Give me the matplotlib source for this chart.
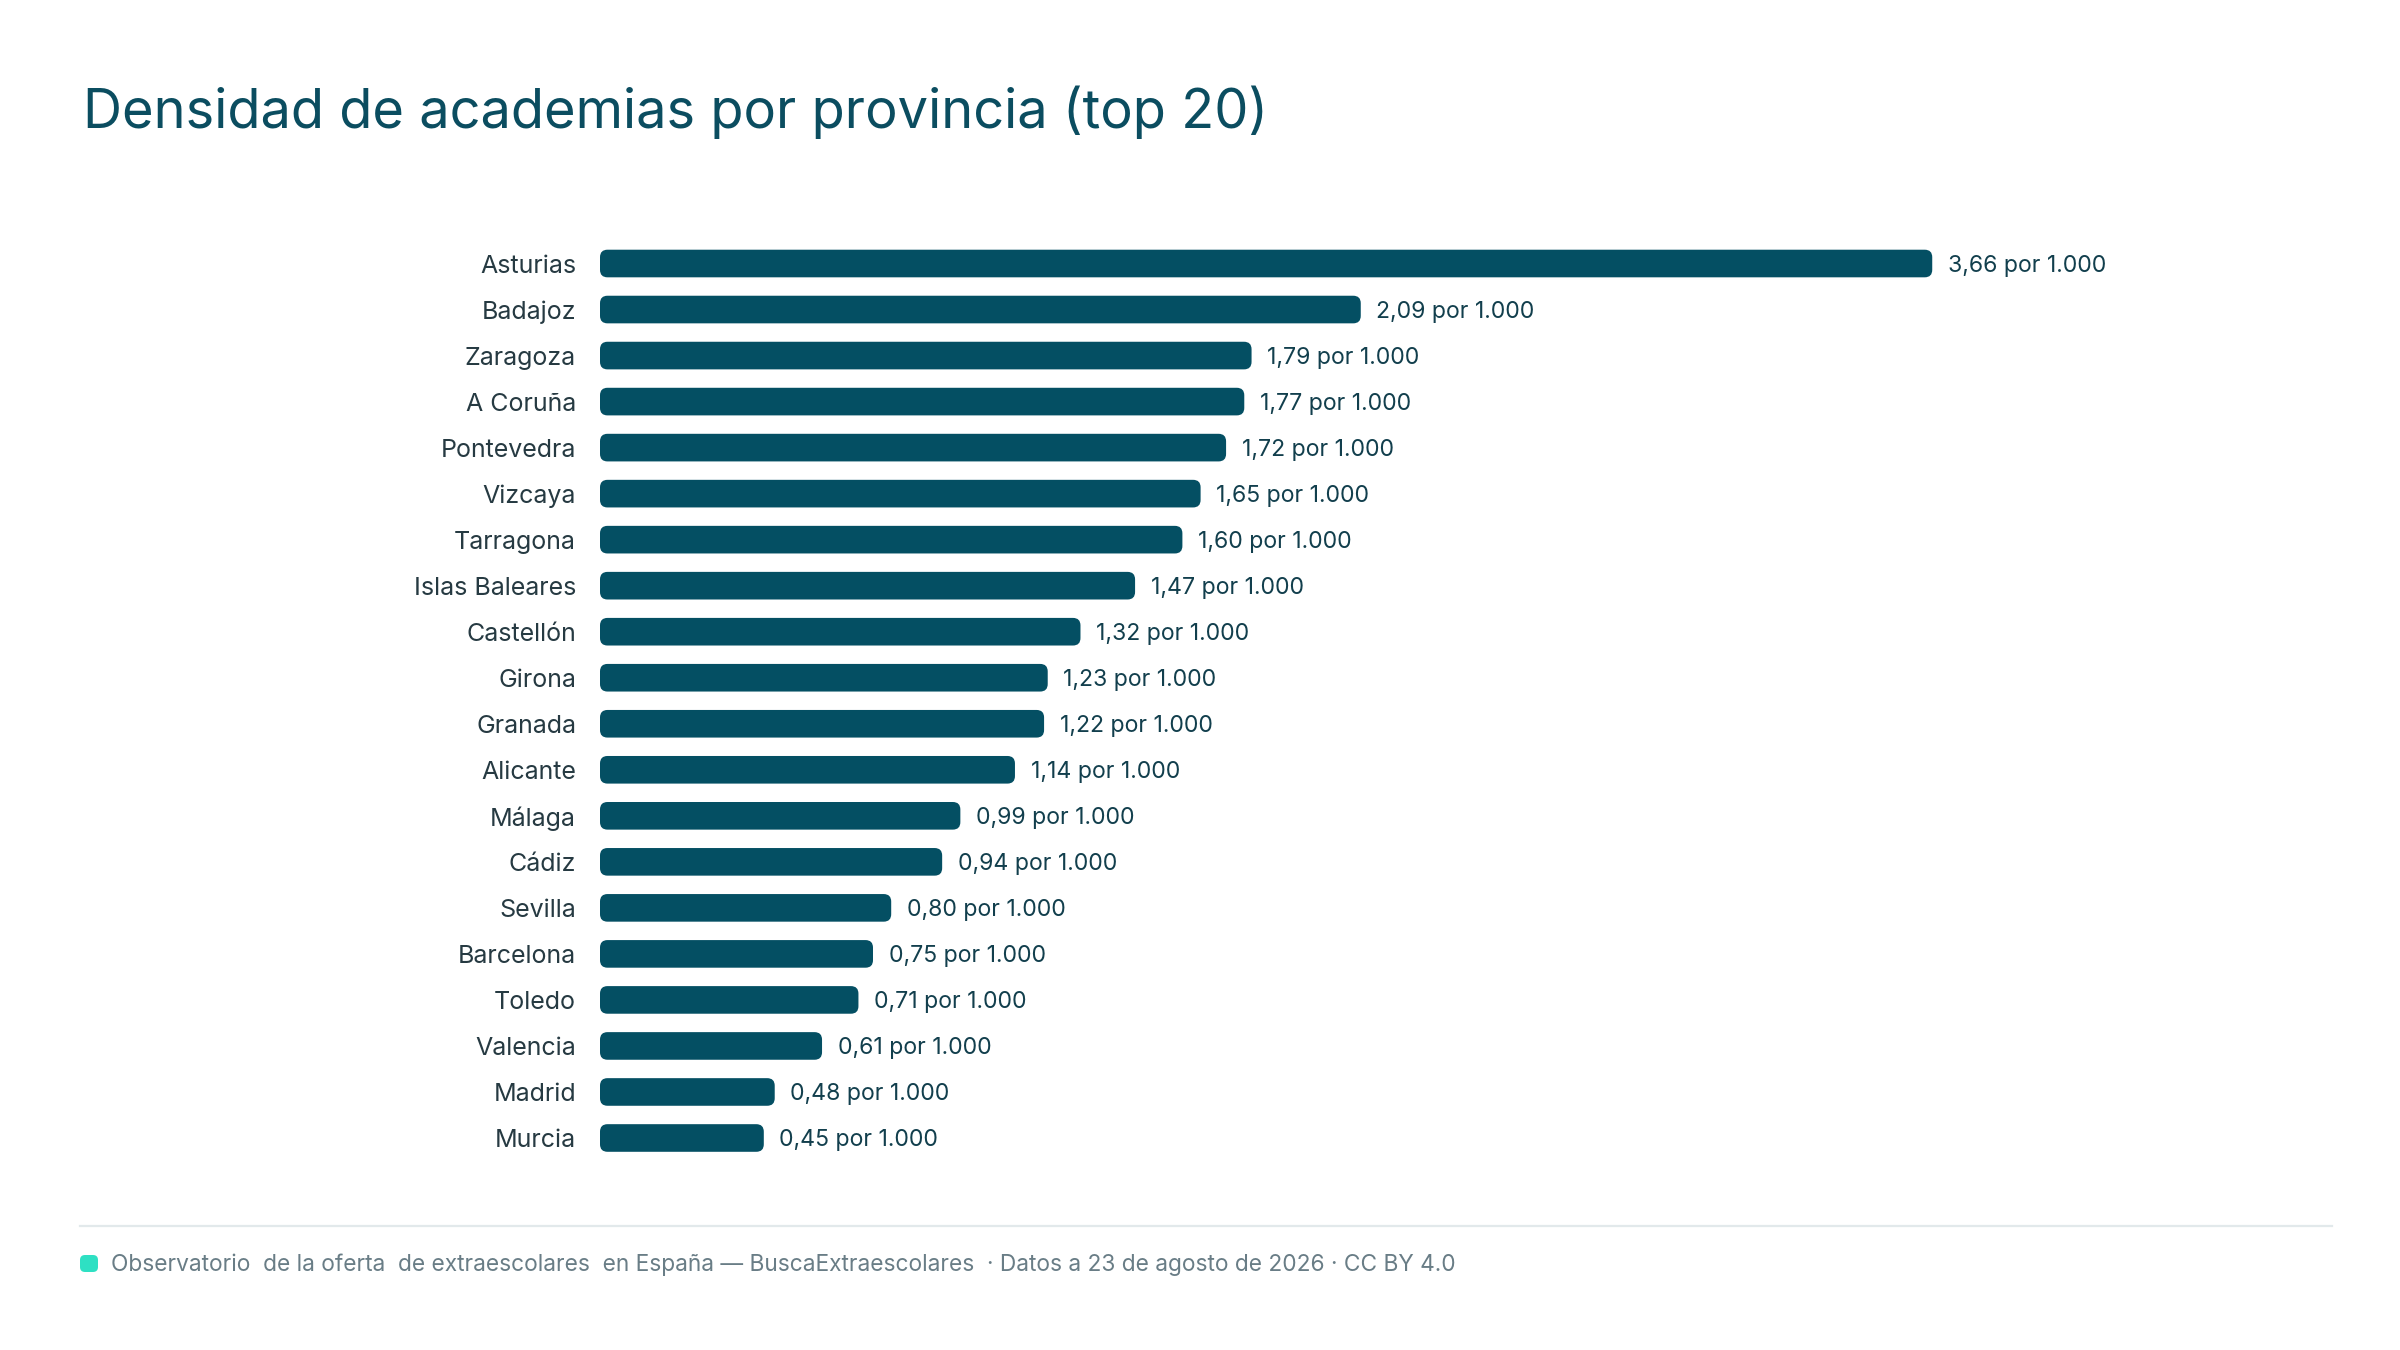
import matplotlib
matplotlib.use("Agg")
import matplotlib.pyplot as plt
from matplotlib.patches import FancyBboxPatch
from matplotlib.transforms import IdentityTransform
from matplotlib.lines import Line2D

provincias = ["Asturias", "Badajoz", "Zaragoza", "A Coruña", "Pontevedra", "Vizcaya",
              "Tarragona", "Islas Baleares", "Castellón", "Girona", "Granada", "Alicante",
              "Málaga", "Cádiz", "Sevilla", "Barcelona", "Toledo", "Valencia", "Madrid", "Murcia"]
densidad = [3.66, 2.09, 1.79, 1.77, 1.72, 1.65, 1.60, 1.47, 1.32, 1.23, 1.22, 1.14,
            0.99, 0.94, 0.80, 0.75, 0.71, 0.61, 0.48, 0.45]
titulo = "Densidad de academias por provincia (top 20)"
fuente = ("Observatorio  de la oferta  de extraescolares  en España — BuscaExtraescolares"
          "  · Datos a 23 de agosto de 2026 · CC BY 4.0")

plt.rcParams['font.family'] = ['Inter', 'DejaVu Sans']

W, H, DPI = 2400, 1350, 200
fig = plt.figure(figsize=(W / DPI, H / DPI), dpi=DPI)
fig.patch.set_facecolor("white")

BAR = "#044f63"
TXT = "#263a42"
VAL = "#123f4d"

# axes geometry (pixels)
left_px, width_px = 600, 1700
top_px, bottom_px = 240.5, 1161
ax = fig.add_axes([left_px / W, 1 - bottom_px / H, width_px / W, (bottom_px - top_px) / H])
ppu = 364.0
ax.set_xlim(0, width_px / ppu)
n = len(provincias)
ax.set_ylim(n - 0.5, -0.5)

ypos = list(range(n))
bars = ax.barh(ypos, densidad, height=0.6, color=BAR)
xr = 7.5 / ppu
yr = 7.5 / 46.0
for b in bars:
    p = FancyBboxPatch((b.get_x(), b.get_y()), b.get_width(), b.get_height(),
                       boxstyle=f"round,pad=0,rounding_size={xr}",
                       mutation_aspect=yr / xr, facecolor=BAR, edgecolor="none")
    ax.add_patch(p)
    b.remove()

for y, v in zip(ypos, densidad):
    lab = f"{v:.2f}".replace(".", ",") + " por 1.000"
    ax.annotate(lab, (v, y), xytext=(5.6, 0), textcoords="offset points",
                va="center_baseline", ha="left", fontsize=8.3, color=VAL)

ax.set_yticks(ypos)
ax.set_yticklabels(provincias, fontsize=9.0, color=TXT)
for t in ax.get_yticklabels():
    t.set_verticalalignment("center_baseline")
ax.tick_params(axis="y", length=0, pad=8.6)
ax.set_xticks([])
for s in ax.spines.values():
    s.set_visible(False)
ax.patch.set_alpha(0)

# title
fig.text(83 / W, 1 - 128 / H, titulo, fontsize=19.5, color="#0b4d60",
         ha="left", va="baseline")

# footer line
fig.add_artist(Line2D([80, 2332], [H - 1226, H - 1226], transform=IdentityTransform(),
                      color="#e2e9eb", linewidth=0.8))
# footer dot
fig.add_artist(FancyBboxPatch((80, H - 1272), 18, 17, boxstyle="round,pad=0,rounding_size=5",
                              transform=IdentityTransform(), facecolor="#2ee0c3",
                              edgecolor="none"))
fig.text(111 / W, 1 - 1271 / H, fuente, fontsize=8.2, color="#697d86",
         ha="left", va="baseline")

fig.savefig("out.png", dpi=DPI, facecolor="white")
